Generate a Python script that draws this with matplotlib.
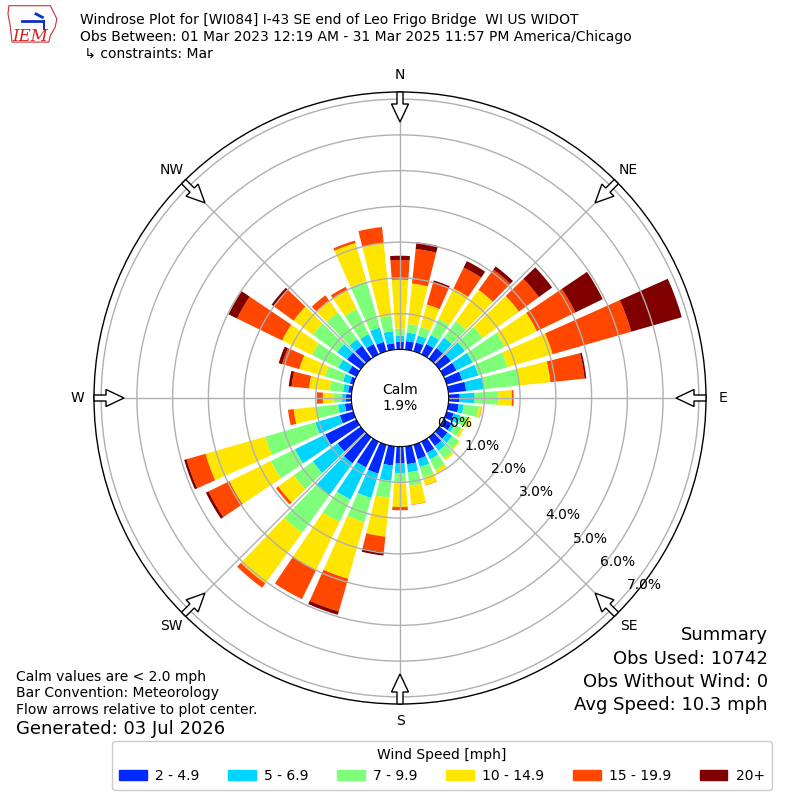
import numpy as np
import matplotlib
matplotlib.use("Agg")
import matplotlib.pyplot as plt
from matplotlib.patches import FancyArrow, Patch, Polygon

# direction bins (deg, meteorological, where the wind blows FROM)
directions = np.arange(0, 360, 10)
speed_labels = ["2 - 4.9", "5 - 6.9", "7 - 9.9", "10 - 14.9", "15 - 19.9", "20+"]

# frequency [%] per direction bin, one list per speed class
pct_2_5 = [0.22, 0.24, 0.26, 0.32, 0.37, 0.40, 0.40, 0.45, 0.50, 0.31, 0.29, 0.20,
           0.25, 0.28, 0.30, 0.35, 0.42, 0.50, 0.46, 0.54, 0.84, 0.80, 0.90, 0.80,
           0.97, 0.39, 0.19, 0.15, 0.10, 0.10, 0.25, 0.47, 0.45, 0.32, 0.27, 0.18]
pct_5_7 = [0.16, 0.24, 0.20, 0.28, 0.36, 0.48, 0.50, 0.47, 0.50, 0.42, 0.14, 0.20,
           0.09, 0.17, 0.17, 0.20, 0.23, 0.23, 0.28, 0.43, 0.71, 1.00, 1.10, 0.86,
           0.94, 0.71, 0.19, 0.11, 0.14, 0.20, 0.31, 0.34, 0.23, 0.31, 0.42, 0.34]
pct_7_10 = [0.20, 0.24, 0.25, 0.50, 0.57, 0.62, 1.00, 0.85, 1.00, 0.66, 0.43, 0.22,
            0.21, 0.23, 0.27, 0.33, 0.30, 0.38, 0.29, 0.48, 0.70, 0.70, 1.30, 0.66,
            0.75, 1.46, 0.62, 0.24, 0.38, 0.52, 0.82, 0.84, 0.92, 0.78, 1.34, 0.43]
pct_10_15 = [1.37, 1.14, 0.65, 0.95, 1.08, 1.25, 1.00, 1.31, 0.87, 0.38, 0.07, 0.08,
             0.07, 0.04, 0.06, 0.10, 0.23, 0.53, 0.66, 1.09, 1.65, 1.50, 1.75, 0.53,
             1.29, 1.74, 0.63, 0.30, 0.58, 0.75, 0.93, 0.67, 0.41, 0.59, 1.12, 2.05]
pct_15_20 = [0.55, 0.97, 0.64, 0.65, 0.70, 0.69, 1.20, 2.29, 0.96, 0.05, 0.01, 0.00,
             0.00, 0.00, 0.00, 0.00, 0.01, 0.01, 0.09, 0.43, 0.95, 0.90, 0.15, 0.08,
             0.65, 0.55, 0.16, 0.17, 0.49, 0.50, 1.40, 0.68, 0.18, 0.10, 0.07, 0.45]
pct_20up = [0.12, 0.19, 0.06, 0.20, 0.11, 0.46, 0.85, 1.47, 0.05, 0.00, 0.00, 0.00,
            0.00, 0.00, 0.00, 0.00, 0.00, 0.00, 0.00, 0.10, 0.10, 0.00, 0.00, 0.00,
            0.08, 0.07, 0.00, 0.00, 0.08, 0.10, 0.27, 0.08, 0.00, 0.00, 0.00, 0.00]

calm_pct = 1.9
ring_values = [0, 1, 2, 3, 4, 5, 6, 7]
compass = ["N", "NE", "E", "SE", "S", "SW", "W", "NW"]
compass_deg = [0, 45, 90, 135, 180, 225, 270, 315]

series = [pct_2_5, pct_5_7, pct_7_10, pct_10_15, pct_15_20, pct_20up]
colors = plt.cm.jet(np.linspace(0, 1, 7))[1:]

fig = plt.figure(figsize=(8, 8), dpi=100)
ax = fig.add_axes([0.1175, 0.12, 0.765, 0.765], projection="polar")
ax.set_theta_zero_location("N")
ax.set_theta_direction(-1)

theta = np.deg2rad(directions)
base = np.zeros(len(directions))
for vals, col, lab in zip(series, colors, speed_labels):
    ax.bar(theta, vals, width=np.deg2rad(8), bottom=base, color=col,
           linewidth=0, label=lab)
    base += np.array(vals)

ax.set_rorigin(-1.36)
ax.set_ylim(0, 7.2)
ax.set_rgrids(ring_values[1:], labels=[])
ax.set_thetagrids(compass_deg, labels=[])
ax.grid(color="#b0b0b0", lw=1)
ax.spines["polar"].set_linewidth(1)

for v in ring_values:
    ax.text(np.deg2rad(130.5), v, f"{v:.1f}%", ha="left", va="bottom", fontsize=10)

ax.text(0.5, 0.5, f"Calm\n{calm_pct}%", transform=ax.transAxes, ha="center",
        va="center", fontsize=10, multialignment="center")

# compass arrows pointing to the centre, labels outside
cx, cy, rpx = 400, 398, 306
for name, deg in zip(compass, compass_deg):
    s, c = np.sin(np.deg2rad(deg)), np.cos(np.deg2rad(deg))
    x0, y0 = (cx + rpx * s) / 800, 1 - (cy - rpx * c) / 800
    dx, dy = -30 * s / 800, -30 * c / 800
    fig.add_artist(FancyArrow(x0, y0, dx, dy, width=6 / 800, head_width=17 / 800,
                              head_length=18 / 800, length_includes_head=True,
                              fc="white", ec="black", lw=1, transform=fig.transFigure))
    fig.text((cx + 323 * s) / 800, 1 - (cy - 323 * c) / 800, name,
             ha="center", va="center", fontsize=10)

# header
fig.text(0.1, 1 - 20 / 800, "Windrose Plot for [WI084] I-43 SE end of Leo Frigo Bridge  WI US WIDOT",
         fontsize=10, va="center")
fig.text(0.1, 1 - 37 / 800, "Obs Between: 01 Mar 2023 12:19 AM - 31 Mar 2025 11:57 PM America/Chicago",
         fontsize=10, va="center")
fig.text(0.1, 1 - 54 / 800, " \u21b3 constraints: Mar", fontsize=10, va="center")

# IEM logo (rough)
lax = fig.add_axes([0.005, 0.935, 0.08, 0.062])
lax.set_xlim(0, 80)
lax.set_ylim(60, 0)
lax.axis("off")
lax.add_patch(Polygon([[6, 4], [58, 4], [62, 12], [66, 20], [64, 30], [58, 40],
                       [56, 48], [10, 48], [8, 30], [5, 14]], closed=True,
                      fill=False, ec="#d03030", lw=0.8))
lax.plot([22, 48], [22, 22], color="#1030c0", lw=2)
lax.plot([40, 48], [14, 18], color="#1030c0", lw=2)
lax.plot([50, 50], [22, 32], color="#1030c0", lw=1.5)
lax.text(33, 41, "IEM", color="#d02020", fontsize=12, style="italic",
         family="DejaVu Serif", ha="center", va="center")

# footer notes
fig.text(16 / 800, 1 - 677 / 800, "Calm values are < 2.0 mph", fontsize=10, va="center")
fig.text(16 / 800, 1 - 693 / 800, "Bar Convention: Meteorology", fontsize=10, va="center")
fig.text(16 / 800, 1 - 710 / 800, "Flow arrows relative to plot center.", fontsize=10, va="center")
fig.text(16 / 800, 1 - 729 / 800, "Generated: 03 Jul 2026", fontsize=13, va="center")

summary = ["Summary", "Obs Used: 10742", "Obs Without Wind: 0", "Avg Speed: 10.3 mph"]
for txt, ypx in zip(summary, [635, 659, 682, 705]):
    fig.text(768 / 800, 1 - ypx / 800, txt, fontsize=13, ha="right", va="center")

handles = [Patch(color=col) for col in colors]
fig.legend(handles, speed_labels, loc="lower center", bbox_to_anchor=(442 / 800, 10 / 800),
           ncol=6, title="Wind Speed [mph]", fontsize=10, title_fontsize=10,
           handlelength=2.0, handleheight=0.7, handletextpad=0.6, columnspacing=2.05,
           borderpad=0.5, borderaxespad=0, framealpha=1)

fig.savefig("out.png", dpi=100)
